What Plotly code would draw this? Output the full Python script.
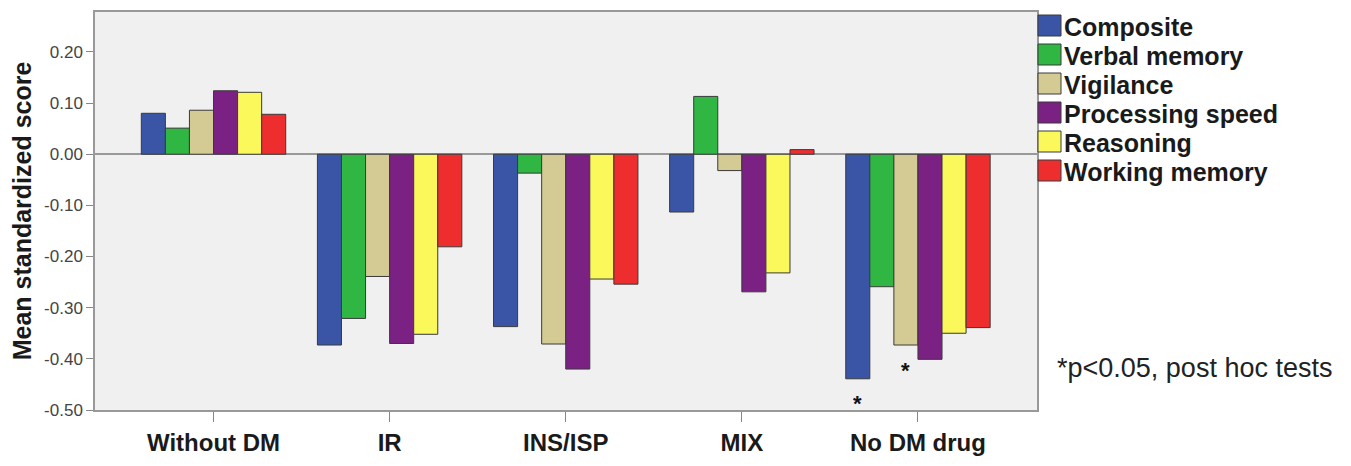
import plotly.graph_objects as go

# ---- data ----
categories = ["Without DM", "IR", "INS/ISP", "MIX", "No DM drug"]
series_names = ["Composite", "Verbal memory", "Vigilance", "Processing speed", "Reasoning", "Working memory"]
composite = [0.080, -0.373, -0.337, -0.113, -0.439]
verbal_memory = [0.051, -0.321, -0.037, 0.113, -0.259]
vigilance = [0.086, -0.239, -0.371, -0.032, -0.373]
processing_speed = [0.124, -0.370, -0.420, -0.269, -0.401]
reasoning = [0.121, -0.352, -0.244, -0.232, -0.350]
working_memory = [0.078, -0.181, -0.254, 0.009, -0.339]
series_values = [composite, verbal_memory, vigilance, processing_speed, reasoning, working_memory]
y_tick_values = [0.20, 0.10, 0.00, -0.10, -0.20, -0.30, -0.40, -0.50]
# significant bars (category, series)
significant = [("No DM drug", "Composite"), ("No DM drug", "Vigilance")]
footnote = "*p&lt;0.05, post hoc tests"

# ---- style ----
colors = ["#3b55a6", "#2fb643", "#d4cb94", "#7a2183", "#fbf85c", "#ee2e2e"]
FONT = "Liberation Sans, Arial, sans-serif"
BARGAP = 0.18

fig = go.Figure()
for name, vals, col in zip(series_names, series_values, colors):
    fig.add_trace(go.Bar(
        name=name, x=categories, y=vals,
        marker=dict(color=col, line=dict(color="#3a3a3a", width=1)),
        showlegend=False,
    ))

# significance stars placed under the corresponding bars
n = len(series_names)
bw = (1 - BARGAP) / n
for cat, ser in significant:
    ci = categories.index(cat)
    si = series_names.index(ser)
    xpos = ci - (1 - BARGAP) / 2 + bw * (si + 0.5)
    fig.add_annotation(x=xpos, y=series_values[si][ci], xref="x", yref="y",
                       text="<b>*</b>", showarrow=False, yanchor="middle", yshift=-25,
                       font=dict(family=FONT, size=22, color="#111"))

# manual legend (large squares like the original)
for i, (name, col) in enumerate(zip(series_names, colors)):
    fig.add_shape(type="rect", xref="paper", yref="paper",
                  xsizemode="pixel", ysizemode="pixel", xanchor=1, yanchor=1,
                  x0=1, x1=24, y0=-3 - i * 29, y1=-24 - i * 29,
                  fillcolor=col, line=dict(color="#3a3a3a", width=1))
    fig.add_annotation(xref="paper", yref="paper", x=1, y=1, xshift=25, yshift=-15 - i * 29,
                       xanchor="left", yanchor="middle", showarrow=False,
                       text="<b>" + name + "</b>",
                       font=dict(family=FONT, size=25, color="#1a1a1a"))

fig.add_annotation(xref="paper", yref="paper", x=1, y=1, xshift=18, yshift=-356,
                   xanchor="left", yanchor="middle", showarrow=False, text=footnote,
                   font=dict(family=FONT, size=27, color="#222"))

fig.update_layout(
    width=1335, height=450,
    margin=dict(l=87, r=306, t=2, b=41),
    paper_bgcolor="white", plot_bgcolor="#f0f0f0",
    barmode="group", bargap=BARGAP, bargroupgap=0,
    font=dict(family=FONT, color="#222"),
)
fig.update_xaxes(
    range=[-0.673, 4.676], showgrid=False, zeroline=False,
    showline=True, linecolor="#999", linewidth=1.5, mirror=True,
    ticks="outside", ticklen=10, tickcolor="#888", tickwidth=1,
    tickfont=dict(family=FONT, size=24, color="#1a1a1a", weight="bold"),
)
fig.update_yaxes(
    range=[-0.5, 0.278], showgrid=False,
    zeroline=True, zerolinecolor="#999", zerolinewidth=1.5,
    showline=True, linecolor="#999", linewidth=1.5, mirror=True,
    ticks="outside", ticklen=7, tickcolor="#888", tickwidth=1,
    tickvals=y_tick_values, ticktext=[f"{v:.2f}" for v in y_tick_values],
    tickfont=dict(family=FONT, size=17, color="#444"),
    title=dict(text="<b>Mean standardized score</b>", standoff=10,
               font=dict(family=FONT, size=25, color="#1a1a1a")),
)

fig.write_html("out.html")
